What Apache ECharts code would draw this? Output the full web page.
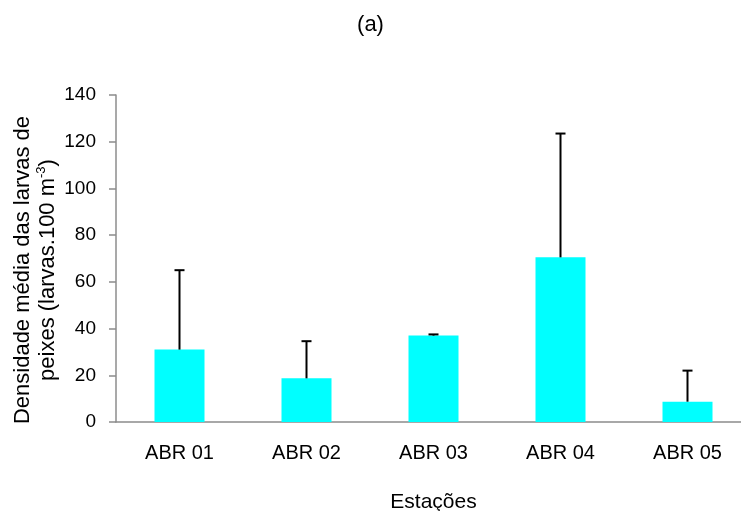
<!DOCTYPE html>
<html>
<head>
<meta charset="utf-8">
<script src="https://cdn.jsdelivr.net/npm/echarts@6/dist/echarts.min.js"></script>
<style>
  html, body { margin: 0; padding: 0; background: #ffffff; }
  #chart { width: 741px; height: 511px; }
</style>
</head>
<body>
<div id="chart"></div>
<script>
// Stations and mean larval density with the upper limit of each error bar
const stations = ['ABR 01', 'ABR 02', 'ABR 03', 'ABR 04', 'ABR 05'];
const meanDensity = [31, 18.7, 37, 70.5, 8.7];
const upperLimit = [65, 34.6, 37.5, 123.5, 22];
const yTicks = { min: 0, max: 140, interval: 20 };

const axisGray = '#8c8c8c';
const font = 'Liberation Sans, Arial, sans-serif';

const errorData = stations.map((s, i) => [i, meanDensity[i], upperLimit[i]]);

const chart = echarts.init(document.getElementById('chart'));
chart.setOption({
  animation: false,
  backgroundColor: '#ffffff',
  title: {
    text: '(a)',
    left: 'center',
    top: 9,
    textStyle: { fontFamily: font, fontSize: 22, fontWeight: 'normal', color: '#000' }
  },
  grid: { left: 116, top: 95, width: 635, height: 327, containLabel: false, outerBoundsMode: 'none' },
  xAxis: {
    type: 'category',
    data: stations,
    boundaryGap: true,
    name: 'Estações',
    nameLocation: 'middle',
    nameGap: 70,
    nameTextStyle: { fontFamily: font, fontSize: 21, color: '#000' },
    axisLine: { lineStyle: { color: axisGray, width: 1.5 } },
    axisTick: { alignWithLabel: false, length: 7, lineStyle: { color: axisGray, width: 1.5 } },
    axisLabel: { fontFamily: font, fontSize: 20, color: '#000', margin: 21 },
    splitLine: { show: false }
  },
  yAxis: {
    type: 'value',
    min: yTicks.min,
    max: yTicks.max,
    interval: yTicks.interval,
    axisLine: { show: true, lineStyle: { color: axisGray, width: 1.5 } },
    axisTick: { show: true, length: 7, lineStyle: { color: axisGray, width: 1.5 } },
    axisLabel: { fontFamily: font, fontSize: 19, color: '#000', margin: 20 },
    splitLine: { show: false }
  },
  graphic: [
    {
      // rotated two-line y-axis title with superscript unit
      type: 'text',
      x: 35,
      y: 270,
      rotation: Math.PI / 2,
      style: {
        text: '{l|Densidade média das larvas de}\n{l|peixes (larvas.100 m}{sup|-3}{l|)}',
        textAlign: 'center',
        textVerticalAlign: 'middle',
        fill: '#000',
        fontFamily: font,
        fontSize: 22,
        rich: {
          l: { fontFamily: font, fontSize: 22, fill: '#000', lineHeight: 25 },
          sup: { fontFamily: font, fontSize: 13, fill: '#000', lineHeight: 25, verticalAlign: 'top' }
        }
      }
    }
  ],
  series: [
    {
      type: 'bar',
      data: meanDensity,
      barWidth: 50,
      itemStyle: { color: '#00ffff' },
      z: 2
    },
    {
      type: 'custom',
      data: errorData,
      z: 3,
      renderItem: function (params, api) {
        const idx = api.value(0);
        const base = api.coord([idx, api.value(1)]);
        const top = api.coord([idx, api.value(2)]);
        const half = 5;
        const style = { stroke: '#000', lineWidth: 2 };
        return {
          type: 'group',
          children: [
            { type: 'line', shape: { x1: base[0], y1: base[1], x2: top[0], y2: top[1] }, style: style },
            { type: 'line', shape: { x1: top[0] - half, y1: top[1], x2: top[0] + half, y2: top[1] }, style: style }
          ]
        };
      }
    }
  ]
});
</script>
</body>
</html>
